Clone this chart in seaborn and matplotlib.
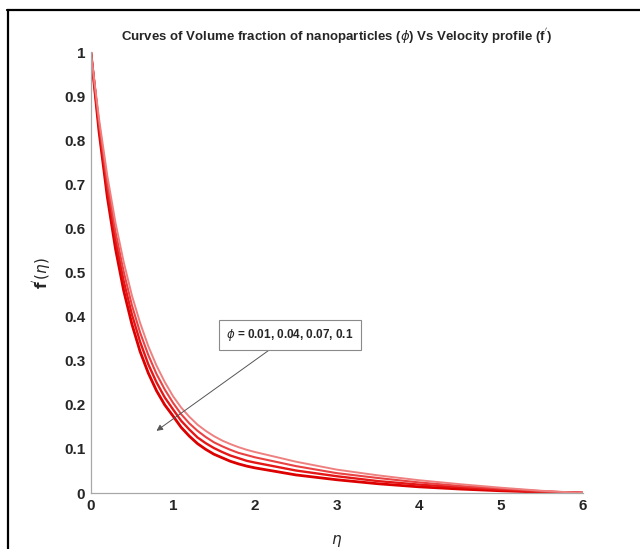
import numpy as np
import pandas as pd
import matplotlib
matplotlib.use("Agg")
import matplotlib.pyplot as plt
from matplotlib.lines import Line2D
import seaborn as sns

eta = [0, 0.1, 0.2, 0.3, 0.4, 0.5, 0.6, 0.7, 0.8, 0.9, 1.0, 1.1, 1.2, 1.3, 1.4,
       1.5, 1.6, 1.7, 1.8, 1.9, 2.0, 2.5, 3.0, 3.5, 4.0, 4.5, 5.0, 5.5, 6.0]
phi_labels = ["0.01", "0.04", "0.07", "0.1"]
f_c1 = [1, 0.819, 0.672, 0.554, 0.459, 0.383, 0.321, 0.272, 0.232, 0.200, 0.175,
        0.149, 0.129, 0.112, 0.099, 0.088, 0.080, 0.072, 0.066, 0.061, 0.057,
        0.041, 0.030, 0.021, 0.014, 0.009, 0.005, 0.002, 0.0]
f_c2 = [1, 0.829, 0.688, 0.574, 0.481, 0.405, 0.343, 0.292, 0.251, 0.217, 0.190,
        0.164, 0.144, 0.126, 0.113, 0.102, 0.093, 0.085, 0.079, 0.073, 0.069,
        0.051, 0.038, 0.027, 0.019, 0.013, 0.007, 0.003, 0.0]
f_c3 = [1, 0.838, 0.704, 0.593, 0.502, 0.426, 0.364, 0.313, 0.270, 0.235, 0.205,
        0.179, 0.158, 0.141, 0.127, 0.115, 0.106, 0.098, 0.091, 0.086, 0.081,
        0.061, 0.045, 0.034, 0.024, 0.016, 0.010, 0.004, 0.0]
f_c4 = [1, 0.848, 0.720, 0.613, 0.524, 0.448, 0.386, 0.333, 0.289, 0.252, 0.220,
        0.194, 0.173, 0.155, 0.141, 0.129, 0.119, 0.111, 0.104, 0.098, 0.093,
        0.071, 0.053, 0.040, 0.029, 0.020, 0.012, 0.005, 0.0]
x_ticks = [0, 1, 2, 3, 4, 5, 6]
y_ticks = [0, 0.1, 0.2, 0.3, 0.4, 0.5, 0.6, 0.7, 0.8, 0.9, 1]
y_tick_labels = ["0", "0.1", "0.2", "0.3", "0.4", "0.5", "0.6", "0.7", "0.8", "0.9", "1"]

series = [f_c1, f_c2, f_c3, f_c4]
df = pd.DataFrame({
    "eta": eta * 4,
    "f": sum(series, []),
    "phi": sum([[p] * len(eta) for p in phi_labels], []),
})

sns.set_style("white")
plt.rcParams["font.family"] = ["Liberation Sans Narrow", "Liberation Sans", "DejaVu Sans"]
plt.rcParams["mathtext.fontset"] = "dejavusans"

fig = plt.figure(figsize=(6.4, 5.49), dpi=100)
ax = fig.add_axes([0.142, 0.102, 0.769, 0.803])

palette = {"0.01": "#dc0000", "0.04": "#e41616", "0.07": "#ea4242", "0.1": "#ef8080"}
sizes = {"0.01": 2.0, "0.04": 1.7, "0.07": 1.5, "0.1": 1.4}
sns.lineplot(data=df, x="eta", y="f", hue="phi", palette=palette, size="phi",
             sizes=sizes, sort=False, legend=False, ax=ax)

ax.set_xlim(0, 6)
ax.set_ylim(0, 1)
ax.set_xticks(x_ticks)
ax.set_xticklabels([str(t) for t in x_ticks], fontsize=11, fontweight="bold")
ax.set_yticks(y_ticks)
ax.set_yticklabels(y_tick_labels, fontsize=11, fontweight="bold")
ax.tick_params(direction="in", length=5, color="#9a9a9a", width=0.8, pad=4)
for s in ["top", "right"]:
    ax.spines[s].set_visible(False)
for s in ["left", "bottom"]:
    ax.spines[s].set_color("#a8a8a8")
    ax.spines[s].set_linewidth(0.9)

ax.set_xlabel(r"$\eta$", fontsize=11, labelpad=15)
ax.set_ylabel(r"$\mathbf{f}^{'}(\eta)$", fontsize=11, fontweight="bold", labelpad=8)
ax.set_title(r"Curves of Volume fraction of nanoparticles ($\phi$) Vs Velocity profile (f$^{'}$)",
             fontsize=9.5, fontweight="bold", pad=8)

ax.annotate(r"$\phi$ = 0.01, 0.04, 0.07, 0.1", xy=(0.80, 0.141), xytext=(1.65, 0.358),
            fontsize=8.5, fontweight="bold", va="center", ha="left",
            bbox=dict(boxstyle="square,pad=0.6", fc="white", ec="#8a8a8a", lw=0.8),
            arrowprops=dict(arrowstyle="-|>", color="#555555", lw=0.7,
                            shrinkA=0, shrinkB=0, mutation_scale=9))

fig.add_artist(Line2D([0.011, 1.0], [0.982, 0.982], color="black", lw=1.6,
                      transform=fig.transFigure))
fig.add_artist(Line2D([0.0125, 0.0125], [0.0, 0.982], color="black", lw=1.6,
                      transform=fig.transFigure))

fig.savefig("out.png", dpi=100)
